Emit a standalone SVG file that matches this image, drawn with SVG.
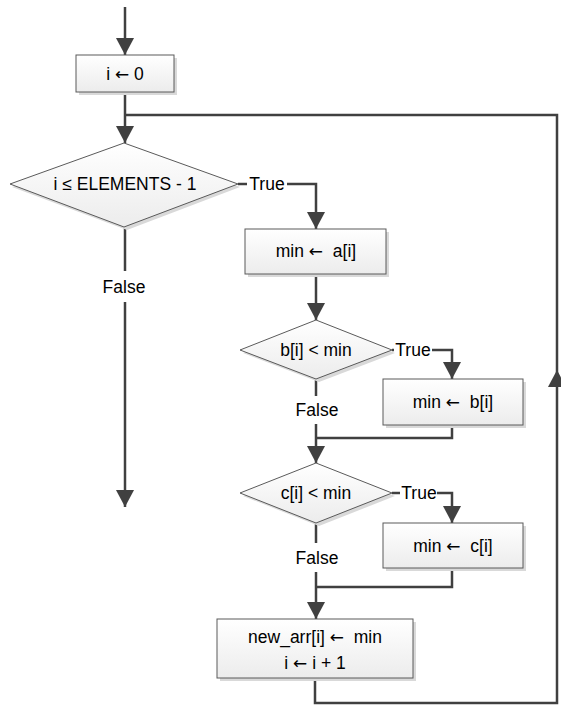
<svg xmlns="http://www.w3.org/2000/svg" width="561" height="705" viewBox="0 0 561 705">
<style>
.conn{fill:none;stroke:#404040;stroke-width:2.5}
.box{fill:url(#g);stroke:#5a5a5a;stroke-width:1}
.sh{fill:#d9d9d9}
text{font-family:"Liberation Sans",Arial,sans-serif;font-size:17.5px;fill:#000;text-anchor:middle;white-space:pre}
.ar{font-family:"DejaVu Sans",sans-serif;font-size:17px}
</style>
<defs>
<linearGradient id="g" x1="0" y1="0" x2="0" y2="1">
<stop offset="0" stop-color="#ffffff"/>
<stop offset="1" stop-color="#ececec"/>
</linearGradient>
<marker id="ah" markerUnits="userSpaceOnUse" markerWidth="18" markerHeight="18" refX="17" refY="9" orient="auto" viewBox="0 0 18 18">
<path d="M0,0 L17,9 L0,18 z" fill="#404040"/>
</marker>
</defs>
<g id="connectors">
<path class="conn" d="M125,7 V55" marker-end="url(#ah)"/>
<path class="conn" d="M125,92 V143" marker-end="url(#ah)"/>
<path class="conn" d="M315,678 V703 H557 V115 H125"/>
<path d="M557,370 L548,387 L566,387 z" fill="#404040"/>
<path class="conn" d="M238,184 H247"/>
<path class="conn" d="M287,184 H316 V229" marker-end="url(#ah)"/>
<path class="conn" d="M125,227 V271"/>
<path class="conn" d="M125,302 V507" marker-end="url(#ah)"/>
<path class="conn" d="M316,274 V320" marker-end="url(#ah)"/>
<path class="conn" d="M392,350 H394"/>
<path class="conn" d="M432,350 H452 V379" marker-end="url(#ah)"/>
<path class="conn" d="M316,379 V396"/>
<path class="conn" d="M316,424 V463" marker-end="url(#ah)"/>
<path class="conn" d="M452,425 V438 H316"/>
<path class="conn" d="M392,493 H400"/>
<path class="conn" d="M437,493 H452 V523" marker-end="url(#ah)"/>
<path class="conn" d="M316,523 V543"/>
<path class="conn" d="M316,572 V619" marker-end="url(#ah)"/>
<path class="conn" d="M452,568 V587 H316"/>
</g>
<g id="labels">
<text x="267" y="190">True</text>
<text x="124" y="293">False</text>
<text x="413" y="356">True</text>
<text x="317" y="416">False</text>
<text x="419" y="499">True</text>
<text x="317" y="564">False</text>
</g>
<g id="n_init">
<rect class="sh" x="79" y="58" width="98" height="37"/>
<rect class="box" x="76" y="55" width="98" height="37"/>
<text x="125" y="80">i <tspan class="ar">←</tspan> 0</text>
</g>
<g id="d_loop">
<polygon class="sh" points="127,146 240,187 127,230 12,187"/>
<polygon class="box" points="124,143 238,184 124,227 10,184"/>
<text x="125" y="190">i ≤ ELEMENTS - 1</text>
</g>
<g id="n_mina">
<rect class="sh" x="248" y="232" width="141" height="45"/>
<rect class="box" x="245" y="229" width="141" height="45"/>
<text x="316" y="257">min <tspan class="ar">←</tspan>  a[i]</text>
</g>
<g id="d_b">
<polygon class="sh" points="319,323 395,353 319,382 243,353"/>
<polygon class="box" points="316,320 392,350 316,379 240,350"/>
<text x="316" y="356">b[i] &lt; min</text>
</g>
<g id="n_minb">
<rect class="sh" x="386" y="382" width="140" height="46"/>
<rect class="box" x="383" y="379" width="140" height="46"/>
<text x="453" y="408">min <tspan class="ar">←</tspan>  b[i]</text>
</g>
<g id="d_c">
<polygon class="sh" points="319,466 395,496 319,526 243,496"/>
<polygon class="box" points="316,463 392,493 316,523 240,493"/>
<text x="316" y="499">c[i] &lt; min</text>
</g>
<g id="n_minc">
<rect class="sh" x="386" y="526" width="140" height="45"/>
<rect class="box" x="383" y="523" width="140" height="45"/>
<text x="453" y="552">min <tspan class="ar">←</tspan>  c[i]</text>
</g>
<g id="n_update">
<rect class="sh" x="220" y="622" width="196" height="59"/>
<rect class="box" x="217" y="619" width="196" height="59"/>
<text x="315" y="643">new_arr[i] <tspan class="ar">←</tspan>  min</text>
<text x="315" y="669">i <tspan class="ar">←</tspan> i + 1</text>
</g>
</svg>
